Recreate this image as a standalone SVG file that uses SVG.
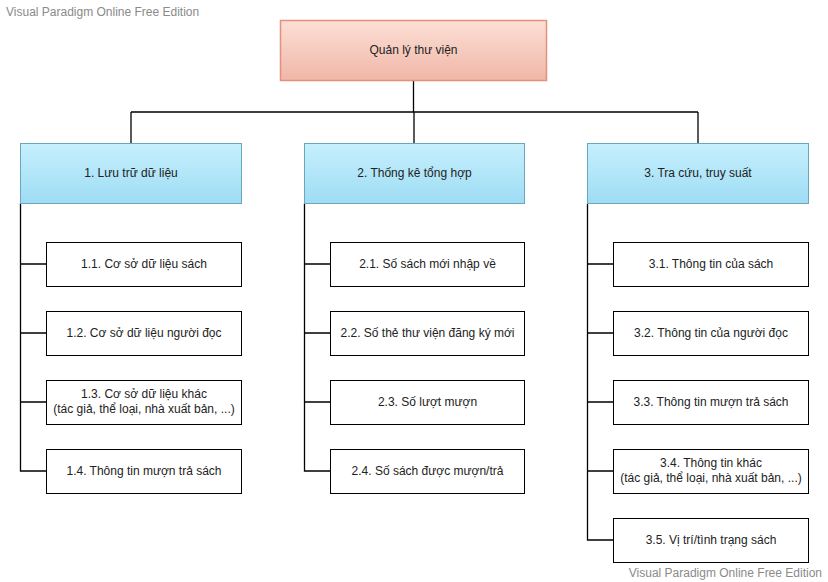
<svg xmlns="http://www.w3.org/2000/svg" width="828" height="582" viewBox="0 0 828 582">
<defs>
<linearGradient id="gRoot" x1="0" y1="0" x2="0" y2="1"><stop offset="0" stop-color="#fddfd6"/><stop offset="1" stop-color="#efb7a7"/></linearGradient>
<linearGradient id="gHead" x1="0" y1="0" x2="0" y2="1"><stop offset="0" stop-color="#c6f0fd"/><stop offset="1" stop-color="#9edcf4"/></linearGradient>
<style>
text{font-family:"Liberation Sans",Arial,sans-serif;font-size:12px;fill:#222;text-anchor:middle}
.wm{fill:#8a8a8a;font-size:12px}
.root{fill:url(#gRoot);stroke:#e3907c;stroke-width:1.5}
.head{fill:url(#gHead);stroke:#6ba7bb;stroke-width:1}
.leaf{fill:#fff;stroke:#000;stroke-width:1}
.c{fill:none;stroke:#000;stroke-width:1.3}
</style>
</defs>
<text class="wm" x="6" y="16" style="text-anchor:start">Visual Paradigm Online Free Edition</text>
<text class="wm" x="822" y="577" style="text-anchor:end">Visual Paradigm Online Free Edition</text>
<g id="connectors">
<path class="c" d="M413.5 80.5V112M131 112H698M131 112V143.5M414 112V143.5M698 112V143.5"/>
<path class="c" d="M20.5 203.5V471H46M20.5 264H46M20.5 333H46M20.5 402H46"/>
<path class="c" d="M304.5 203.5V471H330M304.5 264H330M304.5 333H330M304.5 402H330"/>
<path class="c" d="M587.5 203.5V540H613M587.5 264H613M587.5 333H613M587.5 402H613M587.5 471H613"/>
</g>
<g id="root"><rect class="root" x="280.5" y="20.5" width="266" height="60"/><text x="413.5" y="53.5">Quản lý thư viện</text></g>
<g id="h1"><rect class="head" x="20.5" y="143.5" width="221" height="60"/><text x="131" y="176.5">1. Lưu trữ dữ liệu</text></g>
<g id="h2"><rect class="head" x="304.5" y="143.5" width="220" height="60"/><text x="414.5" y="176.5">2. Thống kê tổng hợp</text></g>
<g id="h3"><rect class="head" x="587.5" y="143.5" width="221" height="60"/><text x="698" y="176.5">3. Tra cứu, truy suất</text></g>
<g id="n11"><rect class="leaf" x="46.5" y="242.5" width="195" height="44"/><text x="144" y="267.5">1.1. Cơ sở dữ liệu sách</text></g>
<g id="n12"><rect class="leaf" x="46.5" y="311.5" width="195" height="44"/><text x="144" y="336.5">1.2. Cơ sở dữ liệu người đọc</text></g>
<g id="n13"><rect class="leaf" x="46.5" y="380.5" width="195" height="44"/><text x="144" y="398">1.3. Cơ sở dữ liệu khác</text><text x="144" y="412.5">(tác giả, thể loại, nhà xuất bản, ...)</text></g>
<g id="n14"><rect class="leaf" x="46.5" y="449.5" width="195" height="44"/><text x="144" y="474.5">1.4. Thông tin mượn trả sách</text></g>
<g id="n21"><rect class="leaf" x="330.5" y="242.5" width="194" height="44"/><text x="427.5" y="267.5">2.1. Số sách mới nhập về</text></g>
<g id="n22"><rect class="leaf" x="330.5" y="311.5" width="194" height="44"/><text x="427.5" y="336.5">2.2. Số thẻ thư viện đăng ký mới</text></g>
<g id="n23"><rect class="leaf" x="330.5" y="380.5" width="194" height="44"/><text x="427.5" y="405.5">2.3. Số lượt mượn</text></g>
<g id="n24"><rect class="leaf" x="330.5" y="449.5" width="194" height="44"/><text x="427.5" y="474.5">2.4. Số sách được mượn/trả</text></g>
<g id="n31"><rect class="leaf" x="613.5" y="242.5" width="195" height="44"/><text x="711" y="267.5">3.1. Thông tin của sách</text></g>
<g id="n32"><rect class="leaf" x="613.5" y="311.5" width="195" height="44"/><text x="711" y="336.5">3.2. Thông tin của người đọc</text></g>
<g id="n33"><rect class="leaf" x="613.5" y="380.5" width="195" height="44"/><text x="711" y="405.5">3.3. Thông tin mượn trả sách</text></g>
<g id="n34"><rect class="leaf" x="613.5" y="449.5" width="195" height="44"/><text x="711" y="467">3.4. Thông tin khác</text><text x="711" y="481.5">(tác giả, thể loại, nhà xuất bản, ...)</text></g>
<g id="n35"><rect class="leaf" x="613.5" y="518.5" width="195" height="44"/><text x="711" y="543.5">3.5. Vị trí/tình trạng sách</text></g>
</svg>
